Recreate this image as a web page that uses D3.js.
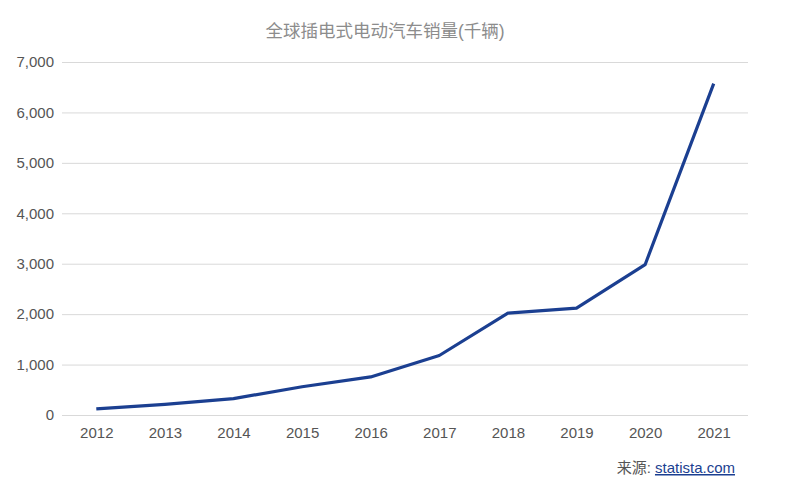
<!DOCTYPE html>
<html>
<head>
<meta charset="utf-8">
<script src="https://cdn.jsdelivr.net/npm/d3@7"></script>
<style>
  body { margin: 0; background: #fff; }
  #chart { width: 791px; height: 488px; }
  text { font-family: "Liberation Sans", Arial, "Noto Sans CJK SC", sans-serif; }
</style>
</head>
<body>
<div id="chart"></div>
<script>
const years = ["2012", "2013", "2014", "2015", "2016", "2017", "2018", "2019", "2020", "2021"];
const sales = [120, 210, 325, 560, 755, 1180, 2020, 2120, 2980, 6570];
const yTicks = [0, 1000, 2000, 3000, 4000, 5000, 6000, 7000];

const W = 791, H = 488;
const margin = { top: 62, right: 43, bottom: 73, left: 62 };
const width = W - margin.left - margin.right;
const height = H - margin.top - margin.bottom;

const svg = d3.select("#chart").append("svg")
    .attr("width", W)
    .attr("height", H);

const g = svg.append("g")
    .attr("transform", `translate(${margin.left},${margin.top})`);

const x = d3.scalePoint()
    .domain(years)
    .range([0, width])
    .padding(0.5);

const y = d3.scaleLinear()
    .domain([0, 7000])
    .range([height, 0]);

// grid + y labels
const yAxis = g.append("g")
    .call(d3.axisLeft(y).tickValues(yTicks).tickSize(-width).tickFormat(d3.format(",")));
yAxis.select(".domain").remove();
yAxis.selectAll(".tick line").attr("stroke", "#d9d9d9").attr("stroke-width", 1);
yAxis.selectAll(".tick text")
    .attr("x", -8)
    .style("font-size", "15px")
    .style("fill", "#555");

// x labels
const xAxis = g.append("g")
    .attr("transform", `translate(0,${height})`)
    .call(d3.axisBottom(x).tickSize(0));
xAxis.select(".domain").remove();
xAxis.selectAll(".tick text")
    .attr("dy", "1.35em")
    .style("font-size", "15px")
    .style("fill", "#555");

// line
const line = d3.line()
    .x((d, i) => x(years[i]))
    .y(d => y(d));

g.append("path")
    .datum(sales)
    .attr("fill", "none")
    .attr("stroke", "#1b3f91")
    .attr("stroke-width", 3.2)
    .attr("stroke-linejoin", "round")
    .attr("d", line);

// title
svg.append("text")
    .attr("x", 385)
    .attr("y", 37)
    .attr("text-anchor", "middle")
    .style("font-size", "17.5px")
    .style("fill", "#8c8c8c")
    .text("全球插电式电动汽车销量(千辆)");

// source
const src = svg.append("text")
    .attr("x", 735)
    .attr("y", 473)
    .attr("text-anchor", "end")
    .style("font-size", "15px");
src.append("tspan").style("fill", "#555").text("来源: ");
src.append("tspan")
    .style("fill", "#1b3f91")
    .style("text-decoration", "underline")
    .text("statista.com");
</script>
</body>
</html>
